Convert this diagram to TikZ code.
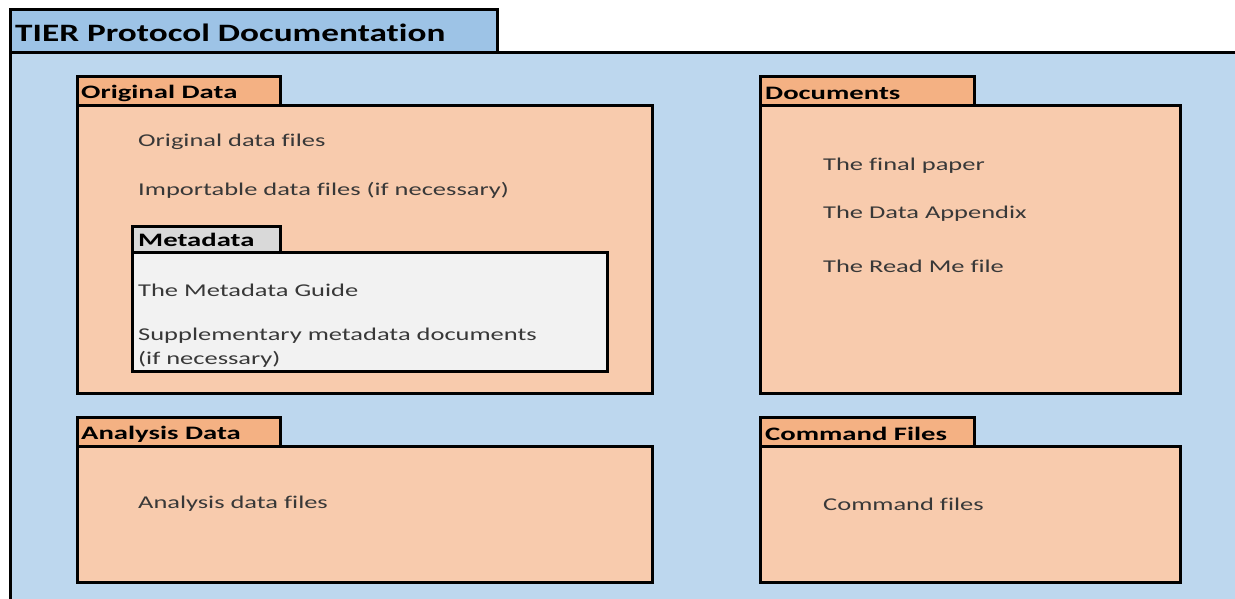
\documentclass[tikz,border=0pt]{standalone}
\usepackage{fontspec}
\setmainfont[Ligatures=NoCommon]{Carlito}
\definecolor{bluetab}{HTML}{9DC3E6}
\definecolor{bluebody}{HTML}{BDD7EE}
\definecolor{orangetab}{HTML}{F4B183}
\definecolor{orangebody}{HTML}{F8CBAD}
\definecolor{greytab}{HTML}{D9D9D9}
\definecolor{greybody}{HTML}{F2F2F2}
\definecolor{bodytext}{HTML}{383838}
\newcommand{\wideitem}[1]{\scalebox{1.47}[1]{#1}}
\newcommand{\widelabel}[1]{\scalebox{1.51}[1]{#1}}
\newcommand{\widetitle}[1]{\scalebox{1.41}[1]{#1}}
\tikzset{
  box/.style={draw=black, line width=3pt, inner sep=0pt, outer sep=0pt, anchor=north west},
  tablabel/.style={font=\fontsize{19}{21}\selectfont\bfseries, text=black, anchor=west, inner sep=0pt},
  item/.style={font=\fontsize{18}{21}\selectfont, text=bodytext, anchor=west, inner sep=0pt, align=left},
}
\begin{document}
\begin{tikzpicture}[x=1pt,y=-1pt]
\useasboundingbox (0,0) rectangle (1235,599);
% outer package
\node[box, fill=bluebody, minimum width=1260pt, minimum height=580pt] (outerbody) at (10,53) {};
\node[box, fill=bluetab, minimum width=487pt, minimum height=43pt] (outertab) at (10,10) {};
\node[font=\fontsize{25}{27}\selectfont\bfseries, anchor=west, inner sep=0pt] (title) at (15,33) {\widetitle{TIER Protocol Documentation}};
% Original Data
\node[box, fill=orangebody, minimum width=575pt, minimum height=287pt] (odbody) at (77,106) {};
\node[box, fill=orangetab, minimum width=203pt, minimum height=29pt] (odtab) at (77,77) {};
\node[tablabel] (odlabel) at (81,93) {\widelabel{Original Data}};
\node[item] (od1) at (138,142) {\wideitem{Original data files}};
\node[item] (od2) at (138,190) {\wideitem{Importable data files (if necessary)}};
% Metadata
\node[box, fill=greybody, minimum width=475pt, minimum height=119pt] (mdbody) at (132,252) {};
\node[box, fill=greytab, minimum width=148pt, minimum height=26pt] (mdtab) at (132,226) {};
\node[tablabel] (mdlabel) at (138,240) {\widelabel{Metadata}};
\node[item] (md1) at (138,290) {\wideitem{The Metadata Guide}};
\node[item] (md2) at (138,336) {\wideitem{Supplementary metadata documents}};
\node[item] (md3) at (138,359) {\wideitem{(if necessary)}};
% Documents
\node[box, fill=orangebody, minimum width=420pt, minimum height=287pt] (docbody) at (760,106) {};
\node[box, fill=orangetab, minimum width=214pt, minimum height=29pt] (doctab) at (760,77) {};
\node[tablabel] (doclabel) at (765,93) {\widelabel{Documents}};
\node[item] (doc1) at (823,166) {\wideitem{The final paper}};
\node[item] (doc2) at (823,214) {\wideitem{The Data Appendix}};
\node[item] (doc3) at (823,266) {\wideitem{The Read Me file}};
% Analysis Data
\node[box, fill=orangebody, minimum width=575pt, minimum height=136pt] (adbody) at (77,446) {};
\node[box, fill=orangetab, minimum width=203pt, minimum height=29pt] (adtab) at (77,417) {};
\node[tablabel] (adlabel) at (81,434) {\widelabel{Analysis Data}};
\node[item] (ad1) at (138,504) {\wideitem{Analysis data files}};
% Command Files
\node[box, fill=orangebody, minimum width=420pt, minimum height=136pt] (cfbody) at (760,446) {};
\node[box, fill=orangetab, minimum width=214pt, minimum height=29pt] (cftab) at (760,417) {};
\node[tablabel] (cflabel) at (765,434) {\widelabel{Command Files}};
\node[item] (cf1) at (823,504) {\wideitem{Command files}};
\end{tikzpicture}
\end{document}
